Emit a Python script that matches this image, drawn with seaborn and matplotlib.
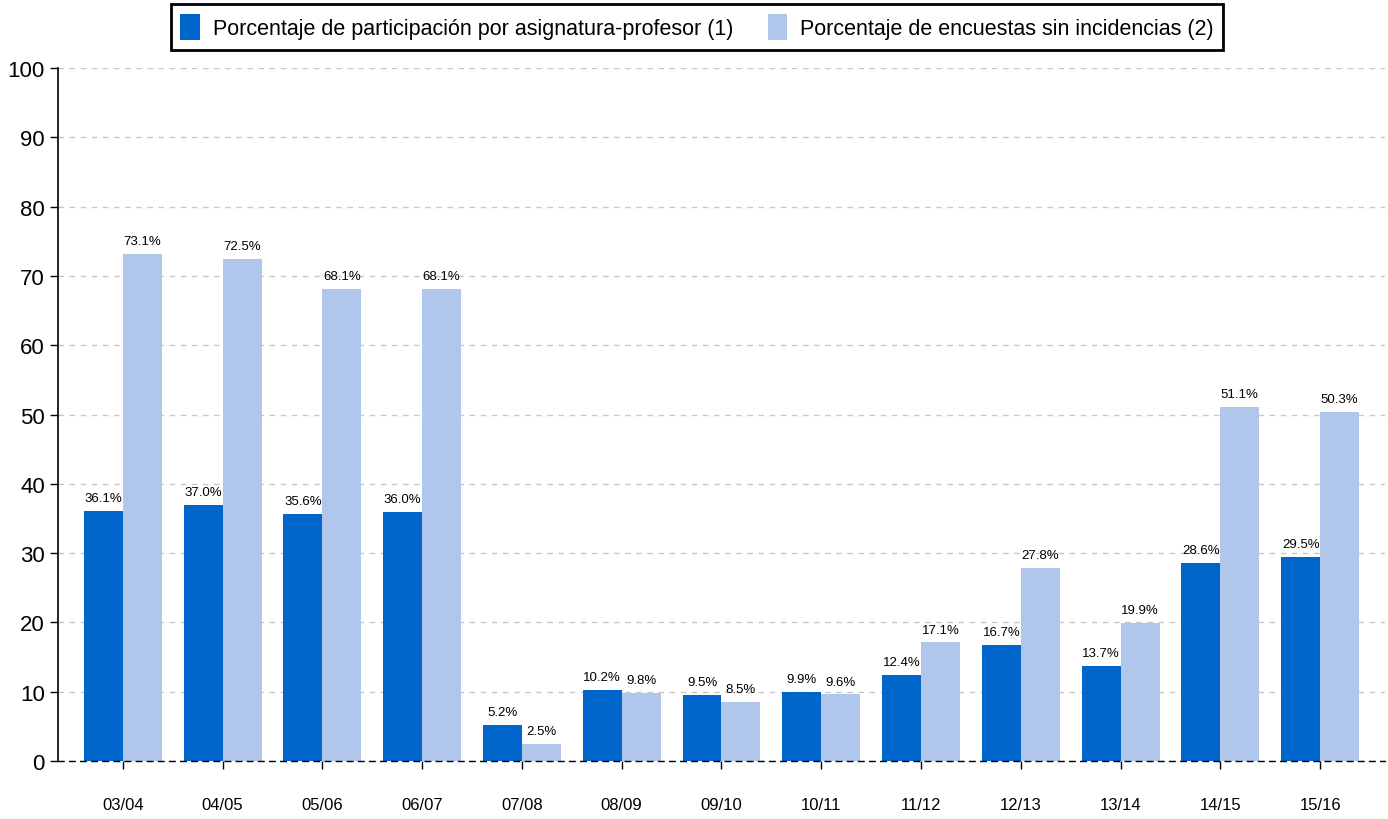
import matplotlib
matplotlib.use("Agg")
import matplotlib.pyplot as plt
import seaborn as sns
import pandas as pd

cursos = ["03/04", "04/05", "05/06", "06/07", "07/08", "08/09", "09/10",
          "10/11", "11/12", "12/13", "13/14", "14/15", "15/16"]
participacion = [36.1, 37.0, 35.6, 36.0, 5.2, 10.2, 9.5, 9.9, 12.4, 16.7, 13.7, 28.6, 29.5]
sin_incidencias = [73.1, 72.5, 68.1, 68.1, 2.5, 9.8, 8.5, 9.6, 17.1, 27.8, 19.9, 51.1, 50.3]

serie1 = "Porcentaje de participación por asignatura-profesor (1)"
serie2 = "Porcentaje de encuestas sin incidencias (2)"

df = pd.concat([
    pd.DataFrame({"curso": cursos, "valor": participacion, "serie": serie1}),
    pd.DataFrame({"curso": cursos, "valor": sin_incidencias, "serie": serie2}),
])

sns.set_style("white")
plt.rcParams["font.family"] = ["Liberation Sans", "DejaVu Sans"]
plt.rcParams["text.color"] = "black"
plt.rcParams["xtick.color"] = "black"
plt.rcParams["ytick.color"] = "black"

fig = plt.figure(figsize=(13.88, 8.2), dpi=100)
ax = fig.add_axes([58 / 1388, 1 - 762 / 820, (1385 - 58) / 1388, (762 - 69) / 820])

sns.barplot(data=df, x="curso", y="valor", hue="serie", ax=ax,
            palette=["#0066CC", "#B0C6EA"], width=0.78, saturation=1,
            linewidth=0, legend=True)

for cont in ax.containers:
    ax.bar_label(cont, fmt="%.1f%%", padding=5, fontsize=9.5, color="black")

ax.set_ylim(0, 100)
ax.set_xlim(-0.65, 12.65)
ax.set_yticks(range(0, 101, 10))
ax.yaxis.grid(True, linestyle=(0, (4, 4)), color="#c8c8c8", linewidth=1)
ax.set_axisbelow(True)
ax.set_xlabel("")
ax.set_ylabel("")

for side in ["top", "right"]:
    ax.spines[side].set_visible(False)
ax.spines["left"].set_color("black")
ax.spines["left"].set_linewidth(1.2)
ax.spines["bottom"].set_color("black")
ax.spines["bottom"].set_linestyle((0, (4, 4)))
ax.spines["bottom"].set_linewidth(1)

ax.tick_params(axis="y", length=6, width=1, labelsize=16, direction="out", left=True)
ax.tick_params(axis="x", length=6, width=1, labelsize=12, pad=20, direction="out", bottom=True)

leg = ax.legend(loc="upper center", bbox_to_anchor=(697 / 1388, 1 - 5 / 820),
                bbox_transform=fig.transFigure, ncol=2, frameon=True,
                fontsize=15.5, handlelength=0.9, handleheight=1.5,
                fancybox=False, borderpad=0.45, columnspacing=1.6,
                handletextpad=0.6, borderaxespad=0, framealpha=1)
leg.get_frame().set_edgecolor("black")
leg.get_frame().set_linewidth(2)

plt.savefig("out.png", dpi=100)
